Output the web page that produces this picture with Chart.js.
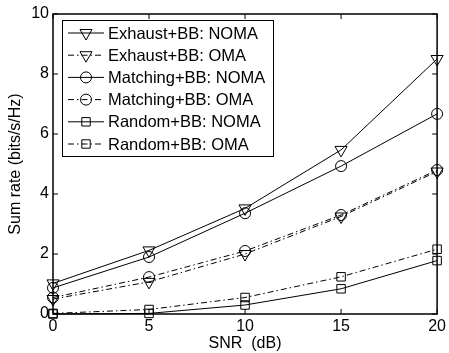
<!DOCTYPE html>
<html>
<head>
<meta charset="utf-8">
<script src="https://cdn.jsdelivr.net/npm/chart.js@4.4.1/dist/chart.umd.min.js"></script>
<style>
  html,body{margin:0;padding:0;background:#fff;}
  #wrap{width:449px;height:353px;}
</style>
</head>
<body>
<div id="wrap"><canvas id="c" width="449" height="353"></canvas></div>
<script>
  const SNR = [0, 5, 10, 15, 20];
  const LABELS = ['Exhaust+BB: NOMA','Exhaust+BB: OMA','Matching+BB: NOMA','Matching+BB: OMA','Random+BB: NOMA','Random+BB: OMA'];
  const exhaustNoma  = [1.02, 2.12, 3.52, 5.47, 8.5];
  const exhaustOma   = [0.5, 1.07, 2.0, 3.25, 4.75];
  const matchingNoma = [0.87, 1.9, 3.36, 4.93, 6.67];
  const matchingOma  = [0.55, 1.23, 2.1, 3.3, 4.8];
  const randomNoma   = [0.0, 0.02, 0.3, 0.84, 1.78];
  const randomOma    = [0.02, 0.15, 0.55, 1.24, 2.16];
  const Y_TICKS = [0, 2, 4, 6, 8, 10];

  const FONT = 'Liberation Sans, Arial, Helvetica, sans-serif';
  const FS = 16;
  const DASHDOT = [6, 3, 1.5, 3];

  function mk(i, vals, style, dashed){
    return {
      label: LABELS[i],
      data: SNR.map((x,k)=>({x, y: vals[k]})),
      borderColor:'#000', borderWidth:1, borderDash: dashed ? DASHDOT : [],
      backgroundColor:'rgba(0,0,0,0)', pointBackgroundColor:'rgba(0,0,0,0)',
      pointBorderColor:'#000', pointBorderWidth:1,
      pointStyle: style, pointRotation: style==='triangle' ? 180 : 0,
      pointRadius: style==='triangle' ? 7 : (style==='rect' ? 6 : 5.5),
      tension:0, clip:false
    };
  }

  // unfilled legend marker
  function marker(ctx, style, x, y){
    ctx.beginPath();
    if(style==='triangle'){ ctx.moveTo(x-6, y-3.5); ctx.lineTo(x+6, y-3.5); ctx.lineTo(x, y+7); ctx.closePath(); }
    else if(style==='circle'){ ctx.arc(x, y, 5.5, 0, Math.PI*2); }
    else { ctx.rect(x-4.2, y-4.2, 8.4, 8.4); }
    ctx.stroke();
  }

  // draws the in-plot legend, the frame and the inward ticks
  const frame = {
    id:'frame',
    afterDraw(chart){
      const {ctx, chartArea:a, scales:{x, y}} = chart;
      ctx.save();
      ctx.strokeStyle = '#000'; ctx.lineWidth = 1.5; ctx.setLineDash([]);
      ctx.strokeRect(a.left, a.top, a.right-a.left, a.bottom-a.top);
      ctx.lineWidth = 1;
      ctx.beginPath();
      SNR.forEach(v=>{ const px = x.getPixelForValue(v);
        ctx.moveTo(px, a.bottom); ctx.lineTo(px, a.bottom-5);
        ctx.moveTo(px, a.top); ctx.lineTo(px, a.top+5); });
      Y_TICKS.forEach(v=>{ const py = y.getPixelForValue(v);
        ctx.moveTo(a.left, py); ctx.lineTo(a.left+5, py);
        ctx.moveTo(a.right, py); ctx.lineTo(a.right-5, py); });
      ctx.stroke();

      // legend
      const bx=62, by=20, bw=211, bh=136;
      ctx.fillStyle='#fff'; ctx.fillRect(bx, by, bw, bh);
      ctx.strokeRect(bx+0.5, by+0.5, bw, bh);
      ctx.font = '16.5px '+FONT; ctx.textBaseline='middle'; ctx.textAlign='left';
      chart.data.datasets.forEach((ds, i)=>{
        const ry = 33 + i*22.2;
        ctx.setLineDash(ds.borderDash); ctx.strokeStyle='#000'; ctx.lineWidth=1;
        ctx.beginPath(); ctx.moveTo(68, ry); ctx.lineTo(104, ry); ctx.stroke();
        ctx.setLineDash([]);
        marker(ctx, ds.pointStyle, 86, ry);
        ctx.fillStyle='#000';
        ctx.fillText(ds.label, 108, ry+1);
      });
      ctx.restore();
    }
  };

  new Chart(document.getElementById('c'), {
    type:'line',
    data:{ datasets:[
      mk(0, exhaustNoma, 'triangle', false),
      mk(1, exhaustOma, 'triangle', true),
      mk(2, matchingNoma, 'circle', false),
      mk(3, matchingOma, 'circle', true),
      mk(4, randomNoma, 'rect', false),
      mk(5, randomOma, 'rect', true)
    ]},
    options:{
      responsive:false, animation:false,
      layout:{padding:{left:0, top:14, right:9, bottom:0}},
      plugins:{legend:{display:false}, tooltip:{enabled:false}},
      scales:{
        x:{type:'linear', min:0, max:20,
           afterBuildTicks(s){ s.ticks = SNR.map(v=>({value:v})); },
           afterFit(s){ s.height = 39; },
           grid:{display:false, drawTicks:false}, border:{display:false},
           ticks:{color:'#000', font:{family:FONT, size:FS}, padding:3, maxRotation:0},
           title:{display:true, text:'SNR  (dB)', color:'#000', font:{family:FONT, size:FS}, padding:{top:0, bottom:0}}},
        y:{type:'linear', min:0, max:10,
           afterBuildTicks(s){ s.ticks = Y_TICKS.map(v=>({value:v})); },
           afterFit(s){ s.width = 53; },
           grid:{display:false, drawTicks:false}, border:{display:false},
           ticks:{color:'#000', font:{family:FONT, size:FS}, padding:4},
           title:{display:true, text:'Sum rate (bits/s/Hz)', color:'#000', font:{family:FONT, size:FS}, padding:{top:6, bottom:0}}}
      }
    },
    plugins:[frame]
  });
</script>
</body>
</html>
